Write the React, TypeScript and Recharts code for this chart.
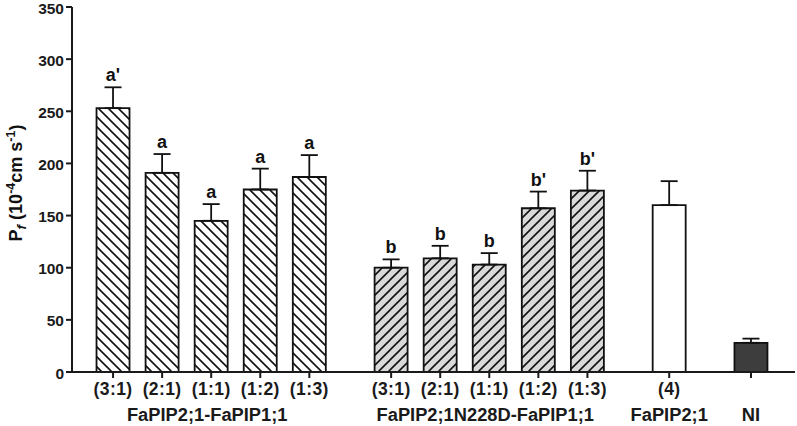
import React from "react";
import { BarChart, Bar, Cell, XAxis, YAxis, ErrorBar, LabelList } from "recharts";

// bar slots on a numeric axis (3 units between bars, 5 between groups)
const positions = [0, 3, 6, 9, 12, 17, 20, 23, 26, 29, 34, 39];
const ratioLabels = ["(3:1)", "(2:1)", "(1:1)", "(1:2)", "(1:3)", "(3:1)", "(2:1)", "(1:1)", "(1:2)", "(1:3)", "(4)", ""];
const means = [253, 191, 145, 175, 187, 100, 109, 103, 157, 174, 160, 28];
const sems = [20, 18, 16, 20, 21, 8, 12, 11, 16, 19, 23, 4];
const letters = ["a'", "a", "a", "a", "a", "b", "b", "b", "b'", "b'", "", ""];
const groupOf = [0, 0, 0, 0, 0, 1, 1, 1, 1, 1, 2, 3];
const groupNames = ["FaPIP2;1-FaPIP1;1", "FaPIP2;1N228D-FaPIP1;1", "FaPIP2;1", "NI"];
const groupCenters = [6, 23, 34, 39];
const yTicks = [0, 50, 100, 150, 200, 250, 300, 350];

const groupFills = ["url(#hatchDown)", "url(#hatchUp)", "#ffffff", "#3d3d3d"];
const FONT = "'Liberation Sans', Arial, sans-serif";

const data = positions.map((x, i) => ({
  x,
  mean: means[i],
  err: [0, sems[i]],
  letter: letters[i],
}));

const XTick = (props: any) => {
  const { x, y, payload } = props;
  const i = positions.indexOf(payload.value);
  const g = groupCenters.indexOf(payload.value);
  // the two long group names sit a little left of their middle bar
  const shift = g >= 0 && g < 2 ? -4 : 0;
  return (
    <g>
      <text x={x} y={y + 15} textAnchor="middle" fontFamily={FONT} fontWeight="bold" fontSize={17.5} letterSpacing={0.4} fill="#1a1a1a">
        {ratioLabels[i]}
      </text>
      {g >= 0 && (
        <text x={x + shift} y={y + 41} textAnchor="middle" fontFamily={FONT} fontWeight="bold" fontSize={18.3} fill="#1a1a1a">
          {groupNames[g]}
        </text>
      )}
    </g>
  );
};

// letter sits just above the error bar cap
const LetterLabel = (props: any) => {
  const { x, y, width, height, index, value } = props;
  if (!value) return null;
  const k = height / means[index];
  const top = y - sems[index] * k;
  return (
    <text x={x + width / 2} y={top - 6} textAnchor="middle" fontFamily={FONT} fontWeight="bold" fontSize={18} fill="#111">
      {value}
    </text>
  );
};

const YTitle = () => (
  <text
    transform="translate(22,183) rotate(-90)"
    textAnchor="middle"
    fontFamily={FONT}
    fontWeight="bold"
    fontSize={18}
    fill="#111"
  >
    P
    <tspan fontStyle="italic" fontSize={13.5} dy={4}>f</tspan>
    <tspan dy={-4}> (10</tspan>
    <tspan fontSize={12.5} dy={-7}>-4</tspan>
    <tspan dy={7}>cm s</tspan>
    <tspan fontSize={12.5} dy={-7}>-1</tspan>
    <tspan dy={7}>)</tspan>
  </text>
);

export default function App() {
  return (
    <div style={{ position: "absolute", left: 0, top: 0, width: 797, height: 426, background: "#fff" }}>
      <BarChart width={797} height={426} data={data} margin={{ top: 7, right: 2, bottom: 0, left: 0 }}>
        <defs>
          <pattern id="hatchDown" patternUnits="userSpaceOnUse" width="10" height="10">
            <rect width="10" height="10" fill="#ffffff" />
            <path d="M0,0 L10,10 M-5,5 L5,15 M5,-5 L15,5" stroke="#111" strokeWidth={1.6} />
          </pattern>
          <pattern id="hatchUp" patternUnits="userSpaceOnUse" width="10" height="10">
            <rect width="10" height="10" fill="#d9d9d9" />
            <path d="M0,10 L10,0 M-5,5 L5,-5 M5,15 L15,5" stroke="#111" strokeWidth={1.6} />
          </pattern>
        </defs>
        <XAxis
          dataKey="x"
          type="number"
          domain={[-2.51, 41.69]}
          allowDataOverflow
          ticks={positions}
          interval={0}
          height={54}
          tickSize={6}
          axisLine={{ stroke: "#1a1a1a", strokeWidth: 2 }}
          tickLine={{ stroke: "#1a1a1a", strokeWidth: 2 }}
          tick={<XTick />}
        />
        <YAxis
          width={72}
          domain={[0, 350]}
          ticks={yTicks}
          interval={0}
          tickSize={6}
          axisLine={{ stroke: "#1a1a1a", strokeWidth: 2 }}
          tickLine={{ stroke: "#1a1a1a", strokeWidth: 2 }}
          tick={{ fontFamily: FONT, fontWeight: "bold", fontSize: 15.5, fill: "#1a1a1a", dy: 1 }}
          label={<YTitle />}
        />
        <Bar dataKey="mean" barSize={33} stroke="#111" strokeWidth={1.8} isAnimationActive={false}>
          {data.map((d, i) => (
            <Cell key={`c-${i}`} fill={groupFills[groupOf[i]]} />
          ))}
          <ErrorBar dataKey="err" width={8.5} stroke="#111" strokeWidth={1.8} direction="y" />
          <LabelList dataKey="letter" content={<LetterLabel />} />
        </Bar>
      </BarChart>
    </div>
  );
}
